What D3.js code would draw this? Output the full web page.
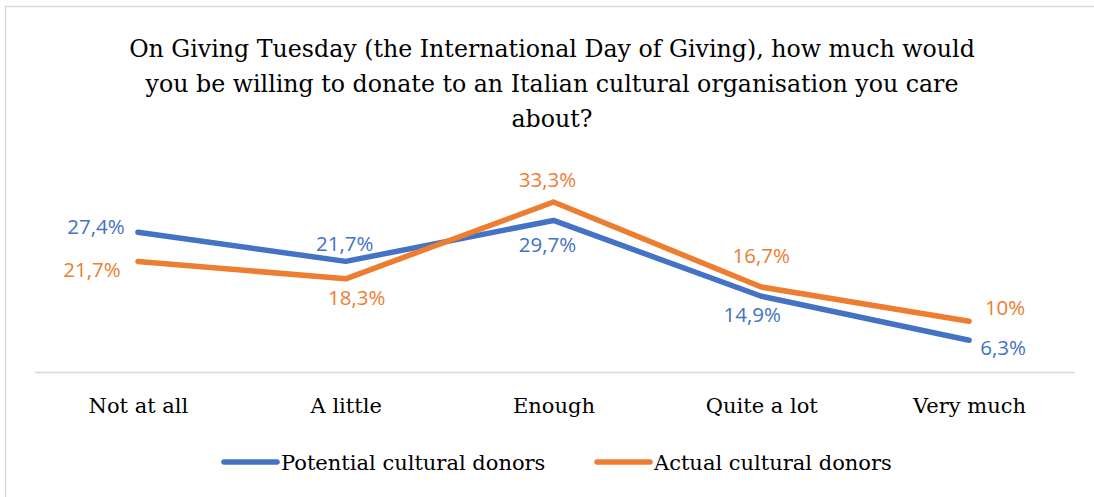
<!DOCTYPE html>
<html>
<head>
<meta charset="utf-8">
<script src="https://cdn.jsdelivr.net/npm/d3@7"></script>
<style>
  html, body { margin: 0; padding: 0; background: #fff; }
  svg { display: block; }
</style>
</head>
<body>
<svg id="chart" width="1094" height="497"></svg>
<script>
// Survey answers and share of respondents (%) per donor group
const categories = ["Not at all", "A little", "Enough", "Quite a lot", "Very much"];
const potentialDonors = [27.4, 21.7, 29.7, 14.9, 6.3];
const actualDonors = [21.7, 18.3, 33.3, 16.7, 10.0];
const labelTexts = {
  potential: ["27,4%", "21,7%", "29,7%", "14,9%", "6,3%"],
  actual: ["21,7%", "18,3%", "33,3%", "16,7%", "10%"]
};
const seriesNames = ["Potential cultural donors", "Actual cultural donors"];
const titleLines = [
  "On Giving Tuesday (the International Day of Giving), how much would",
  "you be willing to donate to an Italian cultural organisation you care",
  "about?"
];

// Label placement relative to each point (dx, dy of label centre)
const potentialLabelOffset = [[-42, -5], [-1, -18], [-6, 24], [-9, 19], [34, 8]];
const actualLabelOffset = [[-46, 8], [11, 19], [-6, -22], [0, -31], [36, -13]];

const svg = d3.select("#chart");
const W = 1094, H = 497;
const blue = "#4472C4", orange = "#ED7D31";
const serif = "'DejaVu Serif', serif";
const sans = "'Open Sans', 'Noto Sans', sans-serif";

// chart frame
svg.append("rect")
  .attr("x", 5.5).attr("y", 6.5)
  .attr("width", W + 10).attr("height", H + 10)
  .attr("fill", "#fff").attr("stroke", "#d9d9d9").attr("stroke-width", 1.5);

// title
svg.append("g").selectAll("text")
  .data(titleLines)
  .join("text")
  .attr("x", 552)
  .attr("y", (d, i) => 56.7 + i * 35.2)
  .attr("text-anchor", "middle")
  .attr("font-family", serif)
  .attr("font-size", 23.7)
  .attr("fill", "#000")
  .text(d => d);

const x = d3.scalePoint().domain(categories).range([34, 1073]).padding(0.5);
const y = d3.scaleLinear().domain([0, 35]).range([372.5, 193.3]);

// category axis
const axis = svg.append("g")
  .attr("transform", "translate(0,372.5)")
  .call(d3.axisBottom(x).tickSize(0).tickPadding(26));
axis.select(".domain").attr("stroke", "#d9d9d9").attr("stroke-width", 1.5)
  .attr("d", "M35,0H1075");
axis.selectAll("text")
  .attr("font-family", serif)
  .attr("font-size", 21)
  .attr("fill", "#000");

const line = d3.line()
  .x((d, i) => x(categories[i]))
  .y(d => y(d));

const series = [
  { values: potentialDonors, color: blue, labels: labelTexts.potential, off: potentialLabelOffset },
  { values: actualDonors, color: orange, labels: labelTexts.actual, off: actualLabelOffset }
];

series.forEach(s => {
  svg.append("path")
    .datum(s.values)
    .attr("d", line)
    .attr("fill", "none")
    .attr("stroke", s.color)
    .attr("stroke-width", 5.5)
    .attr("stroke-linejoin", "round")
    .attr("stroke-linecap", "round");
});

series.forEach(s => {
  svg.append("g").selectAll("text")
    .data(s.values)
    .join("text")
    .attr("x", (d, i) => x(categories[i]) + s.off[i][0])
    .attr("y", (d, i) => y(d) + s.off[i][1])
    .attr("dy", "0.35em")
    .attr("text-anchor", "middle")
    .attr("font-family", sans)
    .attr("font-size", 20.5)
    .attr("fill", s.color)
    .text((d, i) => s.labels[i]);
});

// legend
const legend = svg.append("g");
const legendItems = [
  { name: seriesNames[0], color: blue, x0: 224 },
  { name: seriesNames[1], color: orange, x0: 597 }
];
legendItems.forEach(item => {
  legend.append("line")
    .attr("x1", item.x0).attr("x2", item.x0 + 53)
    .attr("y1", 462).attr("y2", 462)
    .attr("stroke", item.color).attr("stroke-width", 5.5)
    .attr("stroke-linecap", "round");
  legend.append("text")
    .attr("x", item.x0 + 57).attr("y", 469.5)
    .attr("font-family", serif)
    .attr("font-size", 21)
    .attr("fill", "#000")
    .text(item.name);
});
</script>
</body>
</html>
